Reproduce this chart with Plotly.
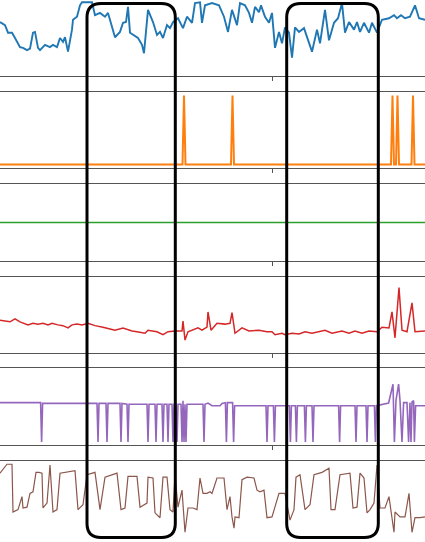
import plotly.graph_objects as go
from plotly.subplots import make_subplots

W, H = 425, 542
T_MAX = 212.5
TICK_T = 136

# --- data (time in s, normalised signal per panel) ---
blue_t = [0, 2.5, 4, 6, 7.5, 10, 11.5, 13.5, 15, 16.5, 17.5, 19, 20, 22.5, 25, 26.5, 28.5, 30,
          31.5, 32.5, 34, 36, 36.5, 38.5, 40, 41, 46, 47.5, 50, 52.5, 54, 57.5, 60, 61.5, 63,
          64, 65, 66.5, 69, 71, 72, 74, 76.5, 78.5, 80, 81.5, 83.5, 85, 86.5, 89, 91.5, 93.5,
          96, 97.5, 100, 101, 102.5, 106, 109.5, 112, 114, 116, 118.5, 120, 122.5, 124.5, 126,
          127.5, 129.5, 130.5, 132.5, 134.5, 136, 137.5, 139.5, 141, 142.5, 144.5, 146, 147.5,
          149.5, 152, 153.5, 156, 158.5, 160, 162.5, 164.5, 167, 169, 171, 172.5, 174.5, 177,
          178.5, 180, 182, 184.5, 186, 188.5, 191, 194.5, 197, 198.5, 200.5, 202.5, 205, 207.5,
          209.5, 212.5]
blue_v = [.71, .67, .57, .57, .50, .38, .37, .34, .36, .57, .58, .37, .34, .41, .38, .41, .38, .50,
          .45, .51, .32, .61, .74, .78, .93, .97, .97, .80, .83, .78, .83, .51, .58, .70, .71,
          .91, .57, .54, .50, .41, .30, .87, .71, .54, .58, .50, .67, .63, .71, .76, .63, .78,
          .70, .96, .97, .70, .93, .96, .93, .78, .58, .87, .67, .96, .93, .83, .70,
          .91, .84, .93, .78, .70, .83, .37, .58, .43, .64, .57, .24, .64,
          .58, .63, .51, .32, .61, .43, .87, .47, .70, .76, .96, .57, .71, .61,
          .71, .58, .70, .57, .70, .57, .74, .76, .80, .76, .80, .76, .78, .93,
          .76, .74]

orange_t = [0, 91.25, 92, 92.75, 115.5, 116.25, 117, 195.5, 196.25, 197, 198, 198.75, 199.5,
            205.75, 206.5, 207.25, 212.5]
orange_v = [0, 0, 1, 0, 0, 1, 0, 0, 1, 0, 0, 1, 0, 0, 1, 0, 0]

green_t = [0, 50, 100, 150, 212.5]
green_v = [0, 0, 0, 0, 0]

red_t = [0, 2.5, 5, 7.5, 10, 14, 16.5, 19, 21.5, 24, 26, 29, 31.5, 34, 36, 38.5, 41, 44, 47.5,
         51.5, 57.5, 61.5, 66, 68.5, 72.5, 74, 78.5, 81.5, 84, 87.5, 91, 91.5, 92.5, 94, 96.5,
         99, 101, 103.5, 104, 105.5, 108.5, 112.5, 115, 116, 117.5, 121, 124.5, 129.5, 133.5,
         136, 137.5, 141, 142.5, 146, 149.5, 152.5, 156, 159.5, 162.5, 166, 171, 174.5, 177.5,
         181, 184.5, 188.5, 191, 194.5, 196, 197.5, 199.5, 201, 203.5, 206, 207.5, 212.5]
red_v = [.43, .42, .41, .45, .41, .37, .39, .38, .39, .37, .39, .37, .36, .33, .37, .38, .37, .39, .36,
         .34, .30, .33, .29, .28, .26, .30, .28, .24, .28, .29, .29, .42, .17, .28, .30,
         .33, .30, .34, .54, .30, .39, .38, .39, .53, .26, .33, .29, .30, .28,
         .28, .24, .26, .24, .26, .25, .28, .26, .28, .30, .26, .29, .26, .29,
         .26, .29, .28, .34, .33, .54, .20, .86, .30, .28, .66, .28, .29]

purple_t = [0, 20.3, 20.8, 21.3, 48.5, 49, 49.5, 53, 53.5, 54, 60, 60.5, 61, 63.5, 64, 64.5,
            73.5, 74, 74.5, 77.5, 78, 78.5, 81, 81.5, 82, 83.5, 84, 84.5, 86, 86.5, 87,
            88, 88.5, 89, 90.5, 91, 91.5, 92, 92.5, 93, 93.5, 101.5, 102, 102.5, 104, 105,
            106, 110, 111, 112.7, 113.2, 113.7, 116.3, 116.8, 117.3, 133, 133.5, 134,
            136.7, 137.2, 137.7, 144.7, 145.2, 145.7, 147.7, 148.2, 148.7, 152.2, 152.7, 153.2,
            156, 156.5, 157, 169.3, 169.8, 170.3, 177.5, 178, 178.5, 183, 183.5, 184,
            187.2, 187.7, 188.2, 194.3, 196.5, 197.2, 198, 199.3, 200, 201, 201.8, 203.5,
            204.3, 205, 205.5, 206, 206.8, 207.2, 207.8, 212.5]
purple_v = [.55, .55, .04, .54, .54, .04, .54, .54, .04, .54, .54, .04, .54, .53, .04, .53,
            .53, .04, .53, .53, .04, .53, .53, .04, .53, .53, .04, .53, .53, .04, .53,
            .53, .04, .53, .53, .04, .575, .04, .53, .04, .53, .53, .04, .53, .545, .53,
            .51, .51, .54, .55, .04, .55, .55, .04, .51, .51, .04, .51,
            .51, .04, .51, .51, .04, .51, .51, .04, .51, .51, .04, .51,
            .51, .04, .51, .51, .04, .51, .51, .04, .51, .51, .04, .51,
            .51, .04, .51, .545, .79, .04, .58, .79, .58, .04, .55, .55,
            .04, .55, .04, .56, .575, .04, .51, .51]

brown_t = [0, 3.5, 6, 6.5, 9, 11, 11.5, 13.5, 15, 16.5, 18, 19.5, 21, 21.5, 23.5, 25, 26.5,
           28.5, 30, 37.5, 39, 41.5, 43.5, 47.5, 50, 52.5, 58.5, 60.5, 62.5, 64, 68.5, 70,
           73.5, 74, 76.5, 77.5, 80, 81.5, 83.5, 85, 86.5, 87.5, 89, 91, 92.5, 94, 96.5, 98.5,
           100, 101.5, 103.5, 105, 106, 108.5, 112, 113.5, 115, 116, 117, 117.5, 119.5, 121,
           123.5, 127, 128.5, 130, 132, 133.5, 136, 139.5, 142.5, 145, 147, 148, 150, 152.5,
           155, 157, 161, 164.5, 165.5, 167.5, 170, 175, 176.5, 178.5, 180, 182, 183.5, 185,
           187, 188.5, 190, 192.5, 194.5, 197, 197.5, 200, 202.5, 204.5, 206, 207.5, 210, 212.5]
brown_v = [.85, .96, .96, .37, .40, .56, .42, .43, .60, .62, .86, .86, .85, .42, .48, .95, .37,
           .40, .85, .88, .40, .46, .83, .86, .40, .80, .85, .40, .42, .81, .81, .43,
           .48, .80, .79, .36, .30, .80, .80, .40, .37, .83, .43, .64, .12, .42, .42, .40,
           .79, .60, .60, .62, .60, .79, .79, .40, .56, .31, .17, .31, .30, .77,
           .80, .79, .64, .62, .64, .30, .31, .60, .60, .27, .40, .80, .83, .40,
           .46, .83, .86, .91, .40, .40, .83, .85, .42, .43, .85, .79, .36, .40,
           .48, .95, .42, .42, .56, .12, .37, .31, .31, .60, .12, .30, .30, .31]

series = [
    (blue_t, blue_v, "#1f77b4", 1.9, [0, 1]),
    (orange_t, orange_v, "#ff7f0e", 2.0, [-0.05, 1.05]),
    (green_t, green_v, "#2ca02c", 1.5, [-0.055, 0.055]),
    (red_t, red_v, "#d62728", 1.5, [0, 1]),
    (purple_t, purple_v, "#9467bd", 1.6, [0, 1]),
    (brown_t, brown_v, "#8c564b", 1.2, [0, 1]),
]

# panel edges in pixels (top, bottom)
panels_px = [(0, 76), (92, 168), (184, 261), (277, 353), (368, 445), (461, 542)]

fig = make_subplots(rows=6, cols=1)

for i, (t, v, color, width, yr) in enumerate(series):
    row = i + 1
    fig.add_trace(go.Scatter(x=t, y=v, mode="lines", line=dict(color=color, width=width),
                             hoverinfo="skip", showlegend=False), row=row, col=1)
    top, bot = panels_px[i]
    fig.update_yaxes(domain=[(H - bot) / H, (H - top) / H], range=yr, showgrid=False,
                     zeroline=False, showticklabels=False, showline=False, ticks="",
                     row=row, col=1)

fig.update_xaxes(range=[0, T_MAX], showgrid=False, zeroline=False, showticklabels=False,
                 tickvals=[TICK_T], ticks="outside", ticklen=4, tickcolor="#555", tickwidth=1,
                 showline=True, linecolor="#555", linewidth=1.2, mirror=True)
fig.update_xaxes(mirror=False, row=1, col=1)
fig.update_xaxes(mirror=False, side="top", ticks="", row=6, col=1)


def rounded_rect(x0, y0, x1, y1, r):
    """Chemin SVG d'un rectangle arrondi, pixels -> coordonnées papier."""
    def p(x, y):
        return f"{x / W:.5f},{1 - y / H:.5f}"
    return (f"M {p(x0 + r, y0)} L {p(x1 - r, y0)} Q {p(x1, y0)} {p(x1, y0 + r)} "
            f"L {p(x1, y1 - r)} Q {p(x1, y1)} {p(x1 - r, y1)} "
            f"L {p(x0 + r, y1)} Q {p(x0, y1)} {p(x0, y1 - r)} "
            f"L {p(x0, y0 + r)} Q {p(x0, y0)} {p(x0 + r, y0)} Z")


for x0, x1 in [(87, 175.3), (286.7, 378.3)]:
    fig.add_shape(type="path", path=rounded_rect(x0, 3.5, x1, 537.5, 14),
                  xref="paper", yref="paper", line=dict(color="black", width=3))

fig.update_layout(
    width=W, height=H,
    margin=dict(l=0, r=0, t=0, b=0),
    paper_bgcolor="white",
    plot_bgcolor="white",
)

# pas de marge de page ni de barre d'outils
fig.write_html("out.html", config={"displayModeBar": False},
               post_script="document.body.style.margin='0';")
